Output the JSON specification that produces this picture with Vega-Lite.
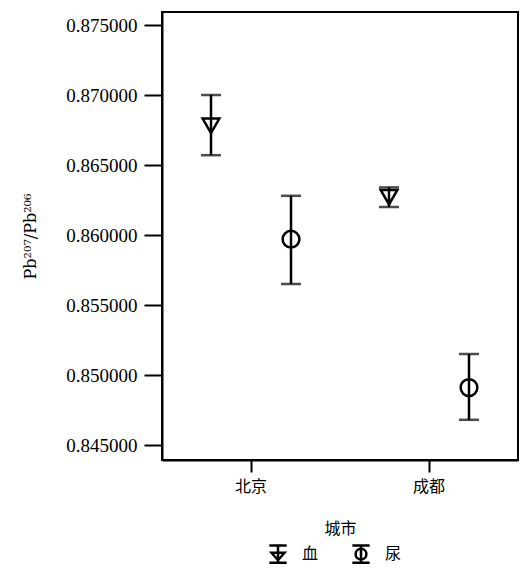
{
  "$schema": "https://vega.github.io/schema/vega-lite/v6.json",
  "autosize": {"type": "none"},
  "padding": {"left": 162, "top": 12, "right": 3, "bottom": 112},
  "width": 356,
  "height": 448,
  "background": "white",
  "config": {
    "view": {"stroke": "black", "strokeWidth": 2},
    "axis": {"grid": false, "domainColor": "black", "domainWidth": 2, "tickColor": "black", "tickWidth": 2, "labelColor": "black", "titleColor": "black"}
  },
  "data": {
    "values": [
      {"城市": "北京", "样本": "血", "mean": 0.8678, "lo": 0.8657, "hi": 0.8700},
      {"城市": "北京", "样本": "尿", "mean": 0.8597, "lo": 0.8565, "hi": 0.8628},
      {"城市": "成都", "样本": "血", "mean": 0.8627, "lo": 0.8620, "hi": 0.8634},
      {"城市": "成都", "样本": "尿", "mean": 0.8491, "lo": 0.8468, "hi": 0.8515}
    ]
  },
  "encoding": {
    "x": {
      "field": "城市", "type": "nominal", "sort": ["北京", "成都"],
      "scale": {"type": "band", "paddingInner": 0, "paddingOuter": 0},
      "axis": {"labelAngle": 0, "labelFont": "Noto Sans CJK SC", "labelFontSize": 16, "labelPadding": 6, "tickSize": 12, "title": "城市", "titleFont": "Noto Sans CJK SC", "titleFontSize": 16, "titleFontWeight": "normal", "titlePadding": 26}
    },
    "xOffset": {
      "field": "样本", "type": "nominal", "sort": ["血", "尿"],
      "scale": {"type": "band", "paddingInner": 0, "paddingOuter": 0.1125}
    }
  },
  "layer": [
    {
      "mark": {"type": "rule", "color": "black", "strokeWidth": 2.5},
      "encoding": {
        "y": {
          "field": "lo", "type": "quantitative",
          "scale": {"domain": [0.843929, 0.875929], "nice": false, "zero": false},
          "axis": {
            "values": [0.845, 0.85, 0.855, 0.86, 0.865, 0.87, 0.875],
            "format": ".6f", "labelFont": "Liberation Serif", "labelFontSize": 19, "labelPadding": 7, "tickSize": 18,
            "title": "Pb²⁰⁷/Pb²⁰⁶", "titleFont": "DejaVu Serif", "titleFontSize": 16, "titleFontWeight": "normal", "titlePadding": 27
          }
        },
        "y2": {"field": "hi"}
      }
    },
    {
      "mark": {"type": "tick", "color": "black", "thickness": 2.5, "size": 20},
      "encoding": {"y": {"field": "hi", "type": "quantitative"}}
    },
    {
      "mark": {"type": "tick", "color": "black", "thickness": 2.5, "size": 20},
      "encoding": {"y": {"field": "lo", "type": "quantitative"}}
    },
    {
      "mark": {"type": "point", "filled": false, "color": "black", "strokeWidth": 2.5, "size": 280, "opacity": 1},
      "encoding": {
        "y": {"field": "mean", "type": "quantitative"},
        "shape": {
          "field": "样本", "type": "nominal",
          "scale": {"domain": ["血", "尿"], "range": ["triangle-down", "circle"]},
          "legend": null
        }
      }
    },
    {
      "mark": {"type": "point", "filled": false, "color": "black", "strokeWidth": 2, "size": 0, "opacity": 1},
      "encoding": {
        "y": {"field": "mean", "type": "quantitative"},
        "shape": {
          "field": "样本", "type": "nominal",
          "scale": {"domain": ["血", "尿"], "range": ["M-1,-1H1M0,-1V1M-1,1H1M-0.75,-0.15H0.75L0,0.7Z", "M-1,-1H1M0,-1V1M-1,1H1M0.62,0A0.62,0.62,0,1,1,-0.62,0A0.62,0.62,0,1,1,0.62,0"]},
          "legend": {
            "orient": "none", "legendX": 106, "legendY": 532, "direction": "horizontal", "title": null,
            "symbolSize": 300, "symbolStrokeWidth": 2.5, "symbolStrokeColor": "black", "symbolFillColor": "transparent", "symbolOpacity": 1,
            "labelFont": "Noto Sans CJK SC", "labelFontSize": 16, "labelOffset": 14, "columnPadding": 28
          }
        }
      }
    }
  ],
  "resolve": {"scale": {"shape": "independent"}, "legend": {"shape": "independent"}}
}
